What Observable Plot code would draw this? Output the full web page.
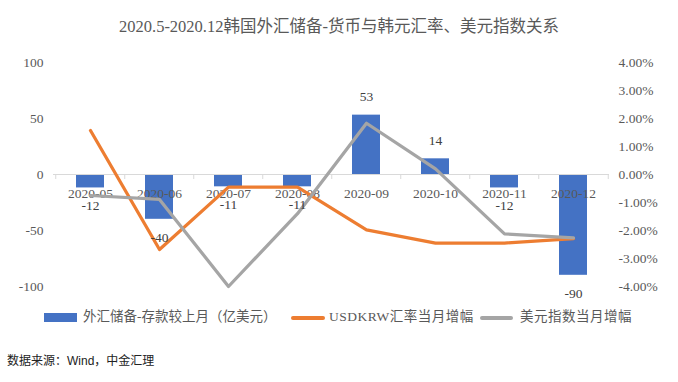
<!DOCTYPE html>
<html>
<head>
<meta charset="utf-8">
<script src="https://cdn.jsdelivr.net/npm/d3@7"></script>
<script src="https://cdn.jsdelivr.net/npm/@observablehq/plot@0.6"></script>
<style>
  html, body { margin: 0; padding: 0; background: #fff; }
  #wrap { position: relative; width: 678px; height: 382px; overflow: hidden; background: #fff; }
  .abs { position: absolute; white-space: nowrap; }
  #title { left: 0; width: 678px; top: 16px; line-height: 22px; text-align: center;
           font-family: "Liberation Serif", "Noto Sans CJK SC", serif; font-size: 16.5px; color: #595959; }
  #chart { left: 0; top: 40px; }
  .lg { font-family: "Liberation Serif", "Noto Sans CJK SC", serif; font-size: 13.5px; color: #595959; line-height: 18px; top: 308px; }
  .sw { position: absolute; }
  #source { left: 7px; top: 352px; line-height: 18px; font-family: "Liberation Sans", "Noto Sans CJK SC", sans-serif; font-size: 12px; color: #222; }
</style>
</head>
<body>
<div id="wrap">
  <div id="title" class="abs"></div>
  <div id="chart" class="abs"></div>
  <div id="legend"></div>
  <div id="source" class="abs"></div>
</div>
<script>
// ---- data ----
const titleText = "2020.5-2020.12韩国外汇储备-货币与韩元汇率、美元指数关系";
const sourceText = "数据来源：Wind，中金汇理";
const months = ["2020-05", "2020-06", "2020-07", "2020-08", "2020-09", "2020-10", "2020-11", "2020-12"];
const reserveChange = [-12, -40, -11, -11, 53, 14, -12, -90];          // 亿美元
const usdkrwPct = [1.57, -2.68, -0.45, -0.45, -1.98, -2.45, -2.45, -2.29]; // %
const dxyPct = [-0.75, -0.89, -4.0, -1.40, 1.83, 0.20, -2.12, -2.26];     // %
const leftTicks = [-100, -50, 0, 50, 100];
const rightTicks = [-4, -3, -2, -1, 0, 1, 2, 3, 4];
const seriesNames = ["外汇储备-存款较上月（亿美元）", "USDKRW汇率当月增幅", "美元指数当月增幅"];
const colors = ["#4472C4", "#ED7D31", "#A5A5A5"];

// right axis (percent) shares the y scale: 4% <-> 100
const PCT = 25;

const data = months.map((m, i) => ({month: m, reserve: reserveChange[i], usdkrw: usdkrwPct[i], dxy: dxyPct[i]}));

const W = 678, H = 260;
const mL = 53, mR = 69, mT = 22, mB = 14;
const step = (W - mL - mR) / months.length;

const chart = Plot.plot({
  width: W, height: H,
  marginLeft: mL, marginRight: mR, marginTop: mT, marginBottom: mB,
  style: {fontFamily: "Liberation Serif, Noto Sans CJK SC, serif", fontSize: "13.5px", color: "#595959", background: "transparent", overflow: "visible"},
  x: {type: "band", domain: months, paddingInner: 0.6, paddingOuter: 0.3, axis: null},
  y: {domain: [-100, 100], label: null},
  marks: [
    Plot.axisY(leftTicks, {anchor: "left", label: null, tickSize: 0, tickPadding: 10, tickFormat: d => String(d)}),
    Plot.axisY(rightTicks.map(t => t * PCT), {anchor: "right", label: null, tickSize: 0, tickPadding: 9, tickFormat: d => (d / PCT).toFixed(2) + "%"}),
    Plot.barY(data, {x: "month", y: "reserve", fill: colors[0]}),
    Plot.ruleY([0], {stroke: "#D9D9D9", strokeWidth: 1}),
    Plot.ruleX(months, {x: d => d, y1: () => 0, y2: () => -4.5, dx: -step / 2, stroke: "#D9D9D9"}),
    Plot.ruleX(months.slice(-1), {x: d => d, y1: () => 0, y2: () => -4.5, dx: step / 2, stroke: "#D9D9D9"}),
    Plot.text(months, {x: d => d, y: () => 0, dy: 19, text: d => d, fill: "#595959"}),
    Plot.line(data, {x: "month", y: d => d.usdkrw * PCT, stroke: colors[1], strokeWidth: 3.25, strokeLinejoin: "round", strokeLinecap: "round"}),
    Plot.line(data, {x: "month", y: d => d.dxy * PCT, stroke: colors[2], strokeWidth: 3.25, strokeLinejoin: "round", strokeLinecap: "round"}),
    Plot.text(data.filter(d => d.reserve >= 0), {x: "month", y: "reserve", text: d => String(d.reserve), dy: -18, fill: "#404040"}),
    Plot.text(data.filter(d => d.reserve < 0), {x: "month", y: "reserve", text: d => String(d.reserve), dy: 18, fill: "#404040"})
  ]
});
document.getElementById("chart").appendChild(chart);
document.getElementById("title").textContent = titleText;
document.getElementById("source").textContent = sourceText;

// legend
const legend = document.getElementById("legend");
const items = [
  {sw: {left: 44, top: 313, width: 33, height: 9}, textLeft: 83},
  {sw: {left: 291, top: 316, width: 34, height: 4}, textLeft: 329},
  {sw: {left: 480, top: 316, width: 33, height: 4}, textLeft: 520}
];
items.forEach((it, i) => {
  const s = document.createElement("div");
  s.className = "sw";
  Object.assign(s.style, {left: it.sw.left + "px", top: it.sw.top + "px", width: it.sw.width + "px", height: it.sw.height + "px", background: colors[i], borderRadius: i ? "2px" : "0"});
  legend.appendChild(s);
  const t = document.createElement("div");
  t.className = "abs lg";
  t.style.left = it.textLeft + "px";
  if (i > 0) t.style.letterSpacing = "0.5px";
  t.textContent = seriesNames[i];
  legend.appendChild(t);
});
</script>
</body>
</html>
